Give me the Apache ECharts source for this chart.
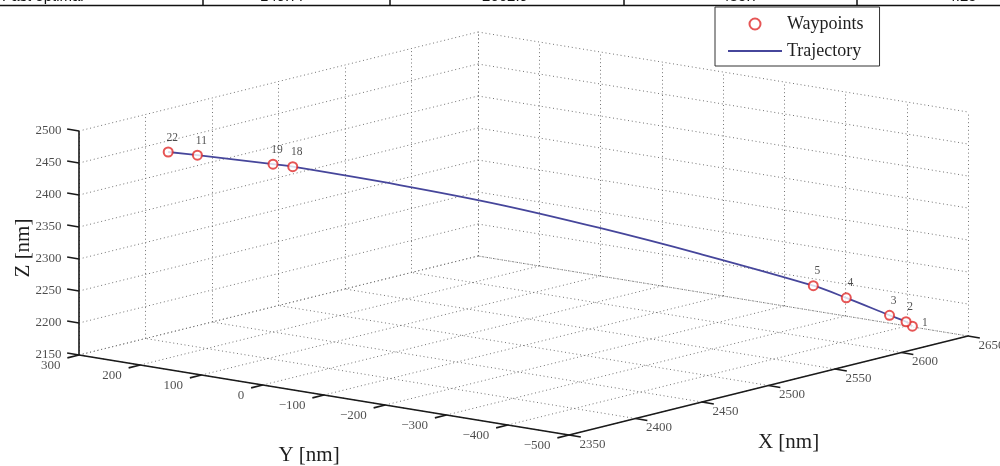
<!DOCTYPE html>
<html>
<head>
<meta charset="utf-8">
<script src="https://cdn.jsdelivr.net/npm/echarts@6/dist/echarts.min.js"></script>
<style>
  html, body { margin: 0; padding: 0; background: #fff; }
  #main { width: 1000px; height: 466px; }
</style>
</head>
<body>
<div id="main"></div>
<script type="text/javascript">
// axis ticks
var xTicks = [2350, 2400, 2450, 2500, 2550, 2600, 2650];
var yTicks = [300, 200, 100, 0, -100, -200, -300, -400, -500];
var zTicks = [2150, 2200, 2250, 2300, 2350, 2400, 2450, 2500];

// waypoints (in path order)
var wpIds = ['1', '2', '3', '4', '5', '18', '19', '11', '22'];
var wpX = [2628, 2626, 2620, 2605, 2594, 2414, 2407, 2381, 2371];
var wpY = [-457, -451, -437, -399, -369, 90, 107, 174, 200];
var wpZ = [2170, 2177, 2188, 2217, 2237, 2444, 2449, 2466, 2472];

// trajectory samples
var trajX = [2628, 2626, 2620, 2605, 2594, 2555, 2520, 2486, 2451, 2414, 2407, 2381, 2371];
var trajY = [-457, -451, -437, -399, -369, -270, -181, -93, -4, 90, 107, 174, 200];
var trajZ = [2170, 2177, 2188, 2217, 2237, 2291, 2336, 2376, 2411, 2444, 2449, 2466, 2472];

// table row cut off above the figure
var tableCells = ['Fast optimal', '149.77', '2062.9', '485.7', '4.25'];

// --- view (box corners on screen) ---
var xMin = 2350, xMax = 2650, yMin = -500, yMax = 300, zMin = 2150, zMax = 2500;
var front = [569, 435];   // (xMin, yMin, zMin)
var right = [968, 336];   // (xMax, yMin, zMin)
var left = [79, 355];     // (xMin, yMax, zMin)
var zHeight = 224;        // px from zMin to zMax
var ex = [(right[0] - front[0]) / (xMax - xMin), (right[1] - front[1]) / (xMax - xMin)];
var ey = [(left[0] - front[0]) / (yMax - yMin), (left[1] - front[1]) / (yMax - yMin)];
var ez = -zHeight / (zMax - zMin);

function proj(x, y, z) {
    return [front[0] + (x - xMin) * ex[0] + (y - yMin) * ey[0],
            front[1] + (x - xMin) * ex[1] + (y - yMin) * ey[1] + (z - zMin) * ez];
}
function unit(v) { var l = Math.sqrt(v[0] * v[0] + v[1] * v[1]); return [v[0] / l, v[1] / l]; }
function add(p, d, k) { return [p[0] + d[0] * k, p[1] + d[1] * k]; }

var serif = 'Liberation Serif';
var tickLen = 12;

// dotted grid
var gridSegs = [];
xTicks.forEach(function (x) {
    gridSegs.push({coords: [proj(x, yMin, zMin), proj(x, yMax, zMin)]});
    gridSegs.push({coords: [proj(x, yMax, zMin), proj(x, yMax, zMax)]});
});
yTicks.forEach(function (y) {
    gridSegs.push({coords: [proj(xMin, y, zMin), proj(xMax, y, zMin)]});
    gridSegs.push({coords: [proj(xMax, y, zMin), proj(xMax, y, zMax)]});
});
zTicks.forEach(function (z) {
    gridSegs.push({coords: [proj(xMin, yMax, z), proj(xMax, yMax, z)]});
    gridSegs.push({coords: [proj(xMax, yMax, z), proj(xMax, yMin, z)]});
});

// axis lines + ticks
var ux = unit(ex), uy = unit(ey);
var axisSegs = [
    {coords: [proj(xMin, yMax, zMin), proj(xMin, yMin, zMin)]},
    {coords: [proj(xMin, yMin, zMin), proj(xMax, yMin, zMin)]},
    {coords: [proj(xMin, yMax, zMin), proj(xMin, yMax, zMax)]}
];
xTicks.forEach(function (x) {
    var p = proj(x, yMin, zMin);
    axisSegs.push({coords: [p, add(p, uy, -tickLen)]});
});
yTicks.forEach(function (y) {
    var p = proj(xMin, y, zMin);
    axisSegs.push({coords: [p, add(p, ux, -tickLen)]});
});
zTicks.forEach(function (z) {
    var p = proj(xMin, yMax, z);
    axisSegs.push({coords: [p, add(p, uy, tickLen)]});
});

function tickLabelSeries(points, pos, align) {
    return {
        type: 'scatter', silent: true, symbolSize: 1, z: 4,
        itemStyle: {color: 'rgba(0,0,0,0)'},
        label: {
            show: true, position: pos, align: align, verticalAlign: 'middle',
            fontFamily: serif, fontSize: 13, color: '#1f1f1f',
            formatter: function (p) { return p.data[2]; }
        },
        data: points
    };
}

var xLabelPts = xTicks.map(function (x) { return proj(x, yMin, zMin).concat([String(x)]); });
var yLabelPts = yTicks.map(function (y) { return proj(xMin, y, zMin).concat([String(y).replace('-', '\u2212')]); });
var zLabelPts = zTicks.map(function (z) { return proj(xMin, yMax, z).concat([String(z)]); });

var trajPts = trajX.map(function (x, i) { return proj(x, trajY[i], trajZ[i]); });
var wpPts = wpIds.map(function (id, i) {
    var item = {value: proj(wpX[i], wpY[i], wpZ[i]).concat([id])};
    if (id === '1') item.label = {position: 'right', distance: 4, offset: [0, -3]};
    return item;
});

var yMid = proj(xMin, (yMin + yMax) / 2, zMin);
var xMid = proj((xMin + xMax) / 2, yMin, zMin);
var zMid = proj(xMin, yMax, (zMin + zMax) / 2);

var graphics = [
    {type: 'line', shape: {x1: 0, y1: 5.5, x2: 1000, y2: 5.5}, style: {stroke: '#111', lineWidth: 1.5}, silent: true},
    {type: 'text', style: {text: 'Y [nm]', x: yMid[0] - 15, y: yMid[1] + 60, align: 'center', verticalAlign: 'middle', font: '21px "' + serif + '"', fill: '#1f1f1f'}},
    {type: 'text', style: {text: 'X [nm]', x: xMid[0] + 20, y: xMid[1] + 57, align: 'center', verticalAlign: 'middle', font: '21px "' + serif + '"', fill: '#1f1f1f'}},
    {type: 'text', x: zMid[0] - 56, y: zMid[1] + 5, rotation: Math.PI / 2, style: {text: 'Z [nm]', x: 0, y: 0, align: 'center', verticalAlign: 'middle', font: '21px "' + serif + '"', fill: '#1f1f1f'}}
];
[203, 390, 624, 857].forEach(function (x) {
    graphics.push({type: 'line', shape: {x1: x, y1: 0, x2: x, y2: 5.5}, style: {stroke: '#111', lineWidth: 1.5}, silent: true});
});
var cellX = [2, 283, 505, 740, 962];
tableCells.forEach(function (t, i) {
    graphics.push({type: 'text', style: {text: t, x: cellX[i], y: 4, align: i === 0 ? 'left' : 'center', verticalAlign: 'bottom', font: '15px "Liberation Sans"', fill: '#111'}});
});

var chart = echarts.init(document.getElementById('main'));
chart.setOption({
    animation: false,
    backgroundColor: '#fff',
    grid: {left: 0, right: 0, top: 0, bottom: 0},
    xAxis: {type: 'value', min: 0, max: 1000, show: false},
    yAxis: {type: 'value', min: 0, max: 466, inverse: true, show: false},
    legend: {
        data: [
            {name: 'Waypoints'},
            {name: 'Trajectory', itemStyle: {opacity: 0}}
        ],
        orient: 'vertical', left: 715, top: 7,
        itemWidth: 54, itemHeight: 11, itemGap: 7,
        padding: [7, 16, 5, 12],
        borderColor: '#333', borderWidth: 1, backgroundColor: '#fff',
        selectedMode: false,
        textStyle: {fontFamily: serif, fontSize: 18, color: '#1f1f1f', lineHeight: 20}
    },
    graphic: graphics,
    series: [
        {
            type: 'lines', coordinateSystem: 'cartesian2d', silent: true, z: 1,
            lineStyle: {color: '#747474', width: 1, type: [1, 2.8], opacity: 1},
            data: gridSegs
        },
        {
            type: 'lines', coordinateSystem: 'cartesian2d', silent: true, z: 3,
            lineStyle: {color: '#1a1a1a', width: 1.6, opacity: 1},
            data: axisSegs
        },
        tickLabelSeries(xLabelPts, [11, 10], 'left'),
        tickLabelSeries(yLabelPts, [-18, 11], 'right'),
        tickLabelSeries(zLabelPts, [-17, 0], 'right'),
        {
            name: 'Trajectory', type: 'line', z: 5,
            smooth: 0.35, symbol: 'none',
            lineStyle: {color: '#46469b', width: 1.8},
            itemStyle: {color: '#46469b'},
            data: trajPts
        },
        {
            name: 'Waypoints', type: 'scatter', z: 6,
            symbol: 'emptyCircle', symbolSize: 9,
            itemStyle: {color: '#e02a2a', borderColor: '#e02a2a', borderWidth: 1.7},
            label: {
                show: true, position: 'top', distance: 3, offset: [4, 0],
                fontFamily: serif, fontSize: 11.5, color: '#1f1f1f',
                formatter: function (p) { return p.data.value[2]; }
            },
            data: wpPts
        }
    ]
});
</script>
</body>
</html>
